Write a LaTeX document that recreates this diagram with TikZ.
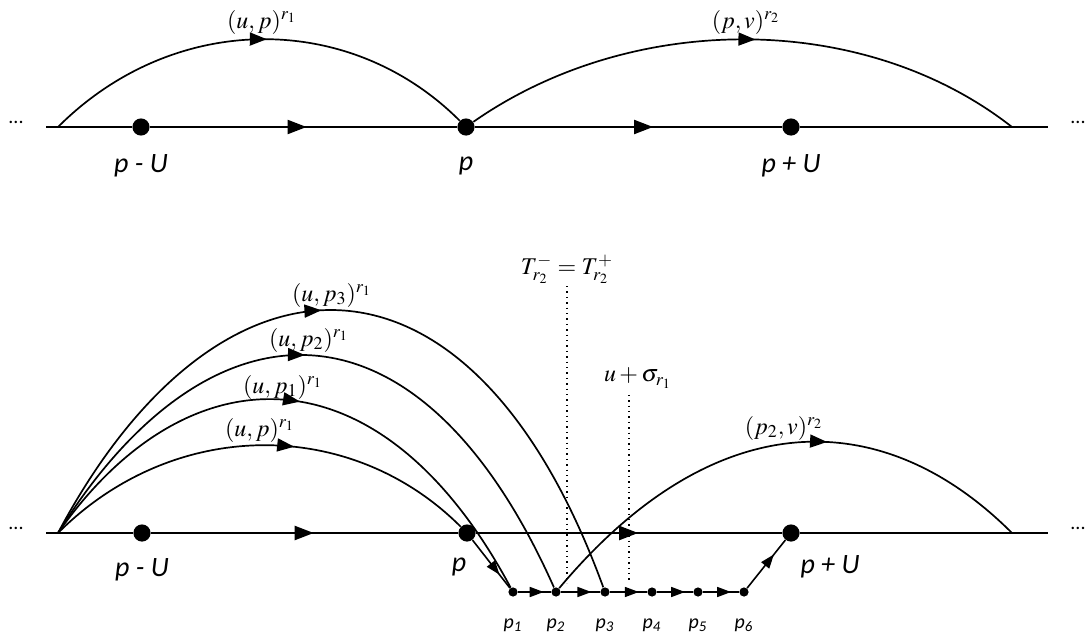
\documentclass[tikz,border=0pt]{standalone}
\usepackage{mathptmx}
\usepackage{fontspec}
\setsansfont{Carlito}
\usetikzlibrary{arrows.meta,decorations.markings}

\begin{document}
\begin{tikzpicture}[
  x=0.5pt,y=-0.5pt,
  dot/.style={circle,fill,inner sep=0pt,minimum size=8.6pt},
  pdot/.style={circle,fill,inner sep=0pt,minimum size=4.6pt},
  lab/.style={font=\fontsize{14}{16}\selectfont\sffamily\itshape},
  plab/.style={font=\fontsize{10}{12}\selectfont\sffamily\itshape},
  mlab/.style={font=\fontsize{12}{14}\selectfont,inner sep=1pt},
  ell/.style={font=\fontsize{10}{12}\selectfont\sffamily},
  track/.style={line width=1.1pt},
  bow/.style={line width=0.85pt},
  hop/.style={line width=0.8pt},
  vline/.style={dotted,line width=0.7pt},
  midarr/.style={postaction={decorate,decoration={markings,
      mark=at position #1 with {\arrow{Triangle[length=9.5pt,width=7pt]}}}}},
  bowarr/.style={postaction={decorate,decoration={markings,
      mark=at position #1 with {\arrow{Triangle[length=8.5pt,width=6.5pt]}}}}},
  hoparr/.style={postaction={decorate,decoration={markings,
      mark=at position #1 with {\arrow{Triangle[length=7pt,width=5pt]}}}}}
]
\useasboundingbox (0,0) rectangle (1089,637);

% upper line
\node[ell] (la) at (16,122) {...};
\node[ell] (ra) at (1078,122) {...};
\coordinate (sa) at (46,127);
\coordinate (oa) at (58,127);
\coordinate (ea) at (1048,127);
\coordinate (fa) at (1012,127);
\node[dot] (ua) at (141,127) {};
\node[dot] (pa) at (466,127) {};
\node[dot] (va) at (791,127) {};
\node[lab] (lua) at (141,166) {p - U};
\node[lab] (lpa) at (466,166) {p};
\node[lab] (lva) at (791,166) {p + U};
\draw[track] (sa) -- (ua);
\draw[track,midarr=0.51] (ua) -- (pa);
\draw[track,midarr=0.58] (pa) -- (va);
\draw[track] (va) -- (ea);
\draw[bow,bowarr=0.52] (oa) .. controls (174,11) and (350,11) .. (pa);
\draw[bow,bowarr=0.52] (pa) .. controls (632,11) and (864,11) .. (fa);
\node[mlab] (aup) at (262,22) {$(u,p)^{r_1}$};
\node[mlab] (apv) at (746,22) {$(p,v)^{r_2}$};

% lower line
\node[ell] (lb) at (16,528) {...};
\node[ell] (rb) at (1078,528) {...};
\coordinate (sb) at (46,533);
\coordinate (ob) at (58,533);
\coordinate (eb) at (1048,533);
\coordinate (fb) at (1012,533);
\node[dot] (ub) at (142,533) {};
\node[dot] (pb) at (467,533) {};
\node[dot] (vb) at (791,533) {};
\node[lab] (lub) at (142,570) {p - U};
\node[lab] (lpb) at (459,567) {p};
\node[lab] (lvb) at (830,567) {p + U};
\draw[track] (sb) -- (ub);
\draw[track,midarr=0.53] (ub) -- (pb);
\draw[track,midarr=0.53] (pb) -- (vb);
\draw[track] (vb) -- (eb);

\foreach \i/\x in {1/513,2/556,3/605,4/652,5/698,6/744}{
  \node[pdot] (q\i) at (\x,592) {};
  \node[plab] (lq\i) at (\x,625) {p\textsubscript{\i}};
}
\draw[hop,hoparr=0.72] (pb) -- (q1);
\foreach \i/\j in {1/2,2/3,3/4,4/5,5/6}
  \draw[hop,hoparr=0.78] (q\i) -- (q\j);
\draw[hop,hoparr=0.7] (q6) -- (vb);

\draw[bow,bowarr=0.58] (ob) .. controls (174,417) and (351,417) .. (pb);
\draw[bow,bowarr=0.5] (ob) .. controls (186,350) and (379,342) .. (q1);
\draw[bow,bowarr=0.47] (ob) .. controls (208,292) and (418,282) .. (q2);
\draw[bow,bowarr=0.46] (ob) .. controls (218,232) and (470,222) .. (q3);
\draw[bow,bowarr=0.6] (q2) .. controls (717,400) and (885,406) .. (fb);
\node[mlab] (bup) at (260,430) {$(u,p)^{r_1}$};
\node[mlab] (bup1) at (283,387) {$(u,p_1)^{r_1}$};
\node[mlab] (bup2) at (309,340) {$(u,p_2)^{r_1}$};
\node[mlab] (bup3) at (332,295) {$(u,p_3)^{r_1}$};
\node[mlab] (bpv) at (784,428) {$(p_2,v)^{r_2}$};

\coordinate (ta) at (567,583);
\coordinate (sg) at (629,583);
\node[mlab,anchor=south] (tlab) at (567,286) {$T_{r_2}^{-}=T_{r_2}^{+}$};
\node[mlab] (slab) at (638,378) {$u+\sigma_{r_1}$};
\draw[vline] (slab.south -| sg) ++(0,4) -- (sg);
\draw[vline] (tlab.south) -- (ta);
\end{tikzpicture}
\end{document}
